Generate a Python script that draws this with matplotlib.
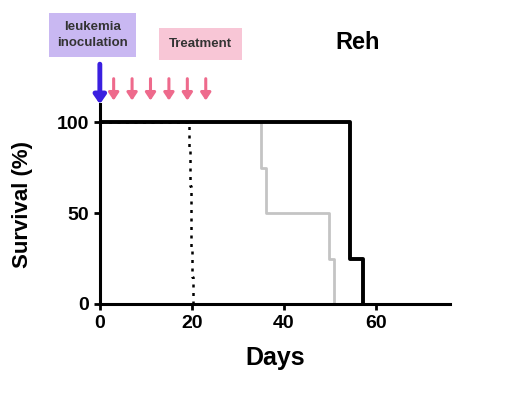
import matplotlib.pyplot as plt

# survival curves (days, % surviving), step style
ctrl_days = [0, 19.3, 19.5, 19.7, 19.9, 20.1, 20.3]
ctrl_surv = [100, 85, 65, 45, 30, 15, 0]
gray_days = [0, 35.1, 36, 49.7, 50.8, 50.8]
gray_surv = [100, 75, 50, 25, 0, 0]
black_days = [0, 54.3, 57.2, 57.2]
black_surv = [100, 25, 0, 0]

inoculation_day = 0
treatment_days = [3, 7, 11, 15, 19, 23]

xticks = [0, 20, 40, 60]
yticks = [0, 50, 100]

plt.rcParams['font.family'] = ['Liberation Sans', 'DejaVu Sans']

fig = plt.figure(figsize=(5.2, 3.93), dpi=100)
ax = fig.add_axes([0.192, 0.2265, 0.673, 0.5085])

ax.step(black_days, black_surv, where='post', color='black', lw=2.8, zorder=3)
ax.step(gray_days, gray_surv, where='post', color='#c4c4c4', lw=2.0, zorder=2)
ax.step(ctrl_days, ctrl_surv, where='post', color='black', lw=1.8,
        linestyle=(0, (1.2, 2.2)), zorder=4)

ax.set_xlim(0, 76)
ax.set_ylim(0, 110)
ax.set_xticks(xticks)
ax.set_yticks(yticks)
ax.set_xticklabels([str(t) for t in xticks], fontsize=14, fontweight='bold')
ax.set_yticklabels([str(t) for t in yticks], fontsize=14, fontweight='bold')
ax.tick_params(direction='out', length=4, width=2, pad=4)
for s in ['top', 'right']:
    ax.spines[s].set_visible(False)
for s in ['left', 'bottom']:
    ax.spines[s].set_linewidth(2.2)

ax.set_xlabel('Days', fontsize=18, fontweight='bold', labelpad=10)
ax.set_ylabel('Survival (%)', fontsize=16, fontweight='bold')
ax.yaxis.set_label_coords(-0.19, 0.5)

# arrows above the axes
ax.annotate('', xy=(inoculation_day, 110), xytext=(inoculation_day, 132),
            annotation_clip=False,
            arrowprops=dict(arrowstyle='-|>,head_width=0.35,head_length=0.5',
                            color='#3a1fe0', lw=3.5, shrinkA=0, shrinkB=0))
for d in treatment_days:
    ax.annotate('', xy=(d, 112), xytext=(d, 124), annotation_clip=False,
                arrowprops=dict(arrowstyle='-|>,head_width=0.3,head_length=0.45',
                                color='#ee6a8c', lw=2.2, shrinkA=0, shrinkB=0))

fig.text(0.178, 0.912, 'leukemia\ninoculation', ha='center', va='center',
         fontsize=9.5, fontweight='bold', color='#333333', linespacing=1.45,
         bbox=dict(boxstyle='square,pad=0.6', fc='#c9b8f2', ec='none'))
fig.text(0.385, 0.888, 'Treatment', ha='center', va='center',
         fontsize=9.5, fontweight='bold', color='#333333',
         bbox=dict(boxstyle='square,pad=0.75', fc='#f8c6d6', ec='none'))
fig.text(0.687, 0.893, 'Reh', ha='center', va='center',
         fontsize=17, fontweight='bold')

fig.savefig('out.png', dpi=100)
